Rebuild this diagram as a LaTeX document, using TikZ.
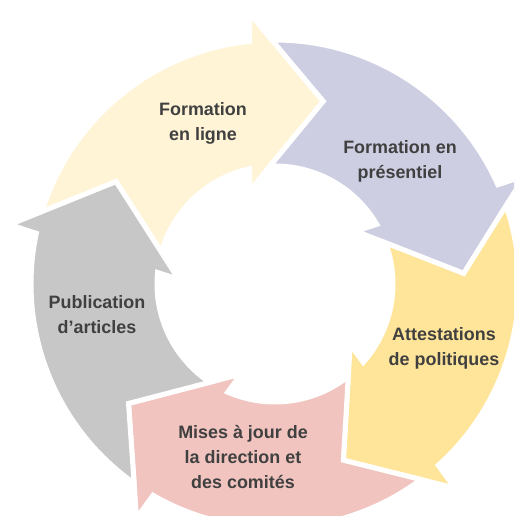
\documentclass[tikz,border=0pt]{standalone}
\usepackage{fontspec}
\setmainfont{Liberation Sans}
\usepackage{tikz}
\definecolor{ligne}{HTML}{FFF4D6}
\definecolor{presentiel}{HTML}{CDCEE2}
\definecolor{attest}{HTML}{FFE599}
\definecolor{majour}{HTML}{F1C4C0}
\definecolor{publi}{HTML}{C7C7C7}
\definecolor{txtgray}{HTML}{404040}
\tikzstyle{lbl}=[align=center, text=txtgray, font=\bfseries\fontsize{10.2}{14.2}\selectfont]
\tikzstyle{blk}=[draw=white, line width=0.1cm, line join=miter]

\begin{document}
\begin{tikzpicture}[x=0.02cm, y=0.02cm]
 \clip (-275,-232) rectangle (239,284);

 % one block arrow per step, tip at angle 0 before rotation
 \foreach \rot/\col in {75.2/ligne, 3.2/presentiel, -68.8/attest, -140.8/majour, -212.8/publi}
 	\draw[blk, fill=\col, rotate=\rot] (87.53:244) arc[start angle=87.53, end angle=20.81, radius=244]
 	  -- (20.2:272) -- (0:189) -- (30:96.5) -- (27.2:118)
 	  arc[start angle=27.2, end angle=89.21, radius=118] -- (72:189) -- cycle;

 \node[lbl] (enligne) at (-72,161) {Formation\\en ligne};
 \node[lbl] (presentiel) at (125,123) {Formation en\\présentiel};
 \node[lbl] (politiques) at (169,-64) {Attestations\\de politiques};
 \node[lbl] (comites) at (-32,-173) {Mises à jour de\\la direction et\\des comités};
 \node[lbl] (articles) at (-178,-31) {Publication\\d’articles};
\end{tikzpicture}
\end{document}
